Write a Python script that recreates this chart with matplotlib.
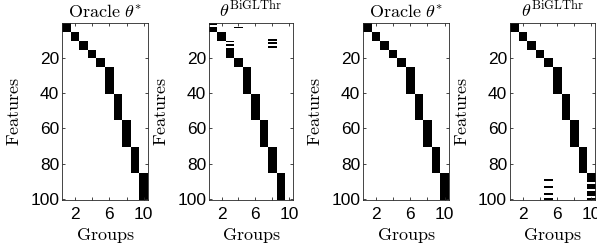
import numpy as np
import matplotlib
matplotlib.use("Agg")
import matplotlib.pyplot as plt

plt.rcParams['mathtext.fontset'] = 'cm'

# group sizes (features per group)
group_sizes = [5, 5, 5, 5, 5, 15, 15, 15, 15, 15]
n_features = 100

# BiGLThr estimate, panel 2: rows (1-based) that are nonzero in each group
bigl_left = {
    1: [1, 3, 4, 5],
    2: list(range(6, 11)),
    3: [11, 13, 15] + list(range(16, 21)),
    4: [3] + list(range(21, 26)),
    5: list(range(26, 41)),
    6: list(range(41, 56)),
    7: list(range(56, 71)),
    8: [10, 12, 14] + list(range(71, 86)),
    9: list(range(86, 101)),
    10: [],
}

# BiGLThr estimate, panel 4
bigl_right = {
    1: list(range(1, 6)),
    2: list(range(6, 11)),
    3: list(range(11, 16)),
    4: list(range(16, 21)),
    5: list(range(21, 26)) + [89, 93, 97, 100],
    6: list(range(26, 41)),
    7: list(range(41, 56)),
    8: list(range(56, 71)),
    9: list(range(71, 86)),
    10: [r for r in range(86, 101) if r not in (91, 95, 99)],
}

titles = [r'$\mathrm{Oracle}\ \theta^{*}$', r'$\theta^{\mathrm{BiGLThr}}$',
          r'$\mathrm{Oracle}\ \theta^{*}$', r'$\theta^{\mathrm{BiGLThr}}$']


def oracle_matrix():
    m = np.zeros((n_features, len(group_sizes)))
    start = 0
    for g, s in enumerate(group_sizes):
        m[start:start + s, g] = 1
        start += s
    return m


def support_matrix(sup):
    m = np.zeros((n_features, len(group_sizes)))
    for g, rows in sup.items():
        for r in rows:
            m[r - 1, g - 1] = 1
    return m


mats = [oracle_matrix(), support_matrix(bigl_left),
        oracle_matrix(), support_matrix(bigl_right)]

fig = plt.figure(figsize=(5.97, 2.5), dpi=100)
lefts = [0.104, 0.350, 0.608, 0.854]
widths = [0.144, 0.141, 0.144, 0.143]

for i in range(4):
    ax = fig.add_axes([lefts[i], 0.2, widths[i], 0.708])
    ax.imshow(mats[i], cmap='gray_r', vmin=0, vmax=1, aspect='auto',
              interpolation='nearest', extent=[0.5, 10.5, 100.5, 0.5])
    ax.set_xlim(0.5, 10.5)
    ax.set_ylim(100.5, 0.5)
    ax.set_xticks([2, 4, 6, 8, 10])
    ax.set_xticklabels(['2', '', '6', '', '10'])
    ax.set_yticks([20, 40, 60, 80, 100])
    ax.tick_params(direction='in', length=2.5, width=0.6, top=True, right=True,
                   labelsize=12.5, colors='0.15', labelcolor='black')
    ax.tick_params(axis='x', pad=5)
    ax.tick_params(axis='y', pad=2)
    for lab in ax.get_xticklabels() + ax.get_yticklabels():
        lab.set_family('Liberation Sans')
    for sp in ax.spines.values():
        sp.set_linewidth(0.6)
        sp.set_color('0.15')
    ax.set_xlabel(r'$\mathrm{Groups}$', fontsize=13, labelpad=3)
    ax.set_ylabel(r'$\mathrm{Features}$', fontsize=13, labelpad=5)
    ax.set_title(titles[i], fontsize=13, pad=4)

fig.savefig('out.png', dpi=100)
